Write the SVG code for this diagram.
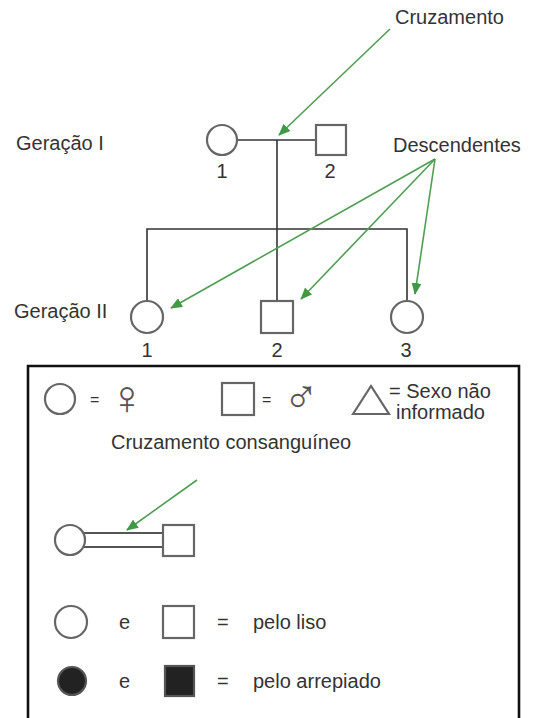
<svg xmlns="http://www.w3.org/2000/svg" width="534" height="718" viewBox="0 0 534 718">
<defs>
<style>
text{font-family:"Liberation Sans",Arial,sans-serif;font-size:20px;fill:#333}
.sym{fill:#fff;stroke:#666;stroke-width:2.2}
.dark{fill:#222;stroke:#555;stroke-width:2.2}
.ln{stroke:#333;stroke-width:1.6;fill:none}
.gr{stroke:#4f9f52;stroke-width:1.6;fill:none;marker-end:url(#ah)}
.mid{text-anchor:middle}
.glyph{font-family:"DejaVu Sans",sans-serif;font-weight:200;font-size:48px;fill:#555}
</style>
<marker id="ah" viewBox="0 0 12 10" refX="11" refY="5" markerWidth="12" markerHeight="10" markerUnits="userSpaceOnUse" orient="auto">
<path d="M0,0 L12,5 L0,10 Z" fill="#3f9a45"/>
</marker>
</defs>
<rect width="534" height="718" fill="#fff"/>

<g id="connectors">
<line class="ln" x1="237" y1="140" x2="316" y2="140"/>
<line class="ln" x1="277" y1="140" x2="277" y2="300"/>
<polyline class="ln" points="147,301 147,229 407,229 407,301"/>
<line class="gr" x1="390" y1="29" x2="279" y2="135"/>
<line class="gr" x1="435" y1="159" x2="171" y2="308"/>
<line class="gr" x1="435" y1="159" x2="301" y2="299"/>
<line class="gr" x1="435" y1="159" x2="415" y2="294"/>
</g>

<g id="label-cruzamento"><text x="395" y="24">Cruzamento</text></g>
<g id="label-descendentes"><text x="393" y="152">Descendentes</text></g>
<g id="label-geracao1"><text x="16" y="150">Geração I</text></g>
<g id="label-geracao2"><text x="14" y="318">Geração II</text></g>

<g id="I-1"><circle class="sym" cx="222" cy="140" r="15"/><text class="mid" x="222" y="178">1</text></g>
<g id="I-2"><rect class="sym" x="316" y="125" width="30" height="30"/><text class="mid" x="330" y="178">2</text></g>
<g id="II-1"><circle class="sym" cx="147" cy="317" r="16"/><text class="mid" x="147" y="357">1</text></g>
<g id="II-2"><rect class="sym" x="261" y="301" width="32" height="32"/><text class="mid" x="277" y="357">2</text></g>
<g id="II-3"><circle class="sym" cx="407" cy="317" r="16"/><text class="mid" x="406" y="357">3</text></g>

<g id="legend">
<path d="M28,720 V366 H519 V720" fill="none" stroke="#111" stroke-width="2.6"/>
<g id="leg-female"><circle class="sym" cx="60" cy="399" r="15"/><text x="90" y="405" style="font-size:16px">=</text><text class="glyph" x="109" y="414">♀</text></g>
<g id="leg-male"><rect class="sym" x="222" y="383" width="32" height="32"/><text x="262" y="405" style="font-size:16px">=</text><text class="glyph" x="283" y="413">♂</text></g>
<g id="leg-unknown"><polygon class="sym" points="353,414 371,386 389,414"/><text x="389" y="398">= Sexo não</text><text x="396" y="419">informado</text></g>
<g id="leg-consang">
<text x="111" y="449">Cruzamento consanguíneo</text>
<line class="gr" x1="197" y1="480" x2="127" y2="530"/>
<line class="ln" x1="84" y1="533" x2="163" y2="533" style="stroke:#555;stroke-width:2"/>
<line class="ln" x1="84" y1="547" x2="163" y2="547" style="stroke:#555;stroke-width:2"/>
<circle class="sym" cx="70" cy="540" r="15"/>
<rect class="sym" x="163" y="525" width="31" height="31"/>
</g>
<g id="leg-liso"><circle class="sym" cx="71" cy="622" r="16"/><text x="119" y="629">e</text><rect class="sym" x="163" y="606" width="31" height="32"/><text x="217" y="629">=</text><text x="253" y="629">pelo liso</text></g>
<g id="leg-arrepiado"><circle class="dark" cx="72" cy="681" r="14"/><text x="119" y="688">e</text><rect class="dark" x="165" y="666" width="29" height="30"/><text x="217" y="688">=</text><text x="253" y="688">pelo arrepiado</text></g>
</g>
</svg>
